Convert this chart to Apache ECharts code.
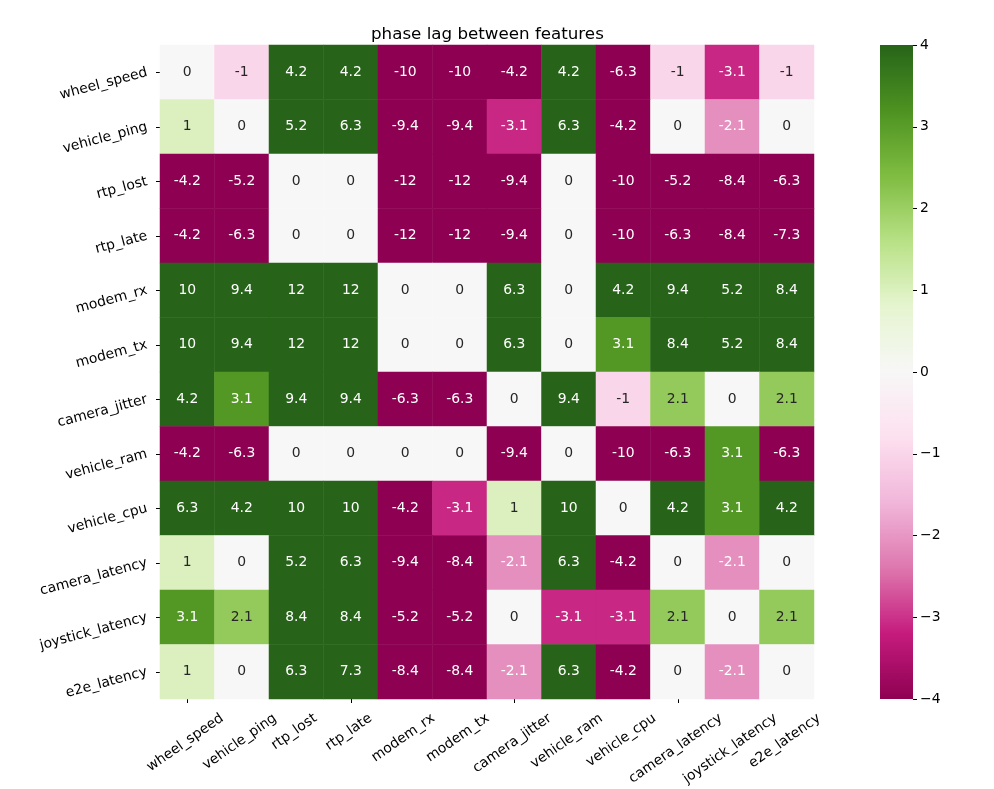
<!DOCTYPE html>
<html>
<head>
<meta charset="utf-8">
<script src="https://cdn.jsdelivr.net/npm/echarts@6/dist/echarts.min.js"></script>
<style>
html,body{margin:0;padding:0;background:#fff;}
#chart{width:994px;height:789px;}
</style>
</head>
<body>
<div id="chart"></div>
<script>
const features = ['wheel_speed','vehicle_ping','rtp_lost','rtp_late','modem_rx','modem_tx','camera_jitter','vehicle_ram','vehicle_cpu','camera_latency','joystick_latency','e2e_latency'];
const lagRows = [
  [0, -1, 4.2, 4.2, -10, -10, -4.2, 4.2, -6.3, -1, -3.1, -1],
  [1, 0, 5.2, 6.3, -9.4, -9.4, -3.1, 6.3, -4.2, 0, -2.1, 0],
  [-4.2, -5.2, 0, 0, -12, -12, -9.4, 0, -10, -5.2, -8.4, -6.3],
  [-4.2, -6.3, 0, 0, -12, -12, -9.4, 0, -10, -6.3, -8.4, -7.3],
  [10, 9.4, 12, 12, 0, 0, 6.3, 0, 4.2, 9.4, 5.2, 8.4],
  [10, 9.4, 12, 12, 0, 0, 6.3, 0, 3.1, 8.4, 5.2, 8.4],
  [4.2, 3.1, 9.4, 9.4, -6.3, -6.3, 0, 9.4, -1, 2.1, 0, 2.1],
  [-4.2, -6.3, 0, 0, 0, 0, -9.4, 0, -10, -6.3, 3.1, -6.3],
  [6.3, 4.2, 10, 10, -4.2, -3.1, 1, 10, 0, 4.2, 3.1, 4.2],
  [1, 0, 5.2, 6.3, -9.4, -8.4, -2.1, 6.3, -4.2, 0, -2.1, 0],
  [3.1, 2.1, 8.4, 8.4, -5.2, -5.2, 0, -3.1, -3.1, 2.1, 0, 2.1],
  [1, 0, 6.3, 7.3, -8.4, -8.4, -2.1, 6.3, -4.2, 0, -2.1, 0]
];
const colorbarMin = -4;
const colorbarMax = 4;
const titleText = 'phase lag between features';

const piyg = ['#8e0152','#c51b7d','#de77ae','#f1b6da','#fde0ef','#f7f7f7','#e6f5d0','#b8e186','#7fbc41','#4d9221','#276419'];
const FONT = 'DejaVu Sans';
const FS = 13.9;
const GRID = { left: 160, top: 45, width: 654, height: 654 };
const CBAR = { left: 880, top: 45, width: 33, height: 654 };

const data = [];
lagRows.forEach((row, r) => {
  row.forEach((v, c) => {
    const clamped = Math.max(colorbarMin, Math.min(colorbarMax, v));
    const dark = (v <= -1.5 || v >= 2.5);
    data.push({
      value: [c, r, clamped, v],
      label: { color: dark ? '#ffffff' : '#262626' }
    });
  });
});

const chart = echarts.init(document.getElementById('chart'), null, {renderer: 'canvas'});
chart.setOption({
  animation: false,
  backgroundColor: '#ffffff',
  textStyle: { fontFamily: FONT },
  title: {
    text: titleText,
    left: 366,
    top: 21,
    textStyle: { fontFamily: FONT, fontSize: 16.7, fontWeight: 'normal', color: '#000' }
  },
  grid: [GRID, CBAR],
  xAxis: [
    {
      type: 'category', data: features, gridIndex: 0,
      axisLine: { show: false },
      axisTick: { show: true, alignWithLabel: true, length: 4, lineStyle: { color: '#000' } },
      axisLabel: { show: false },
      splitLine: { show: false }
    },
    { type: 'value', gridIndex: 1, show: false, min: 0, max: 1 }
  ],
  yAxis: [
    {
      type: 'category', data: features, gridIndex: 0, inverse: true,
      axisLine: { show: false },
      axisTick: { show: true, alignWithLabel: true, length: 4, lineStyle: { color: '#000' } },
      axisLabel: { interval: 0, rotate: 15, fontSize: FS, color: '#000', fontFamily: FONT, margin: 13 },
      splitLine: { show: false }
    },
    {
      type: 'value', gridIndex: 1, min: colorbarMin, max: colorbarMax, interval: 1, position: 'right',
      axisLine: { show: false, onZero: false },
      axisTick: { show: true, inside: false, length: 4, lineStyle: { color: '#000' } },
      axisLabel: { fontSize: FS, color: '#000', fontFamily: FONT, margin: 7,
        formatter: v => String(v).replace('-', '\u2212') },
      splitLine: { show: false }
    }
  ],
  visualMap: {
    type: 'continuous',
    show: false,
    min: colorbarMin, max: colorbarMax,
    dimension: 2,
    seriesIndex: 0,
    inRange: { color: piyg }
  },
  series: [
    {
      type: 'heatmap',
      xAxisIndex: 0, yAxisIndex: 0,
      data: data,
      label: {
        show: true,
        fontSize: FS,
        fontFamily: FONT,
        formatter: p => String(p.value[3])
      },
      itemStyle: { borderWidth: 0 },
      emphasis: { disabled: true }
    },
    {
      type: 'scatter', xAxisIndex: 1, yAxisIndex: 1, data: [], silent: true
    }
  ]
});

// colour bar: gradient rect spanning the colour-bar axis range
const yTop = chart.convertToPixel({ yAxisIndex: 1 }, colorbarMax);
const yBot = chart.convertToPixel({ yAxisIndex: 1 }, colorbarMin);
const stops = piyg.map((c, i) => ({ offset: 1 - i / (piyg.length - 1), color: c })).reverse();
const graphics = [{
  type: 'rect',
  silent: true,
  z: 0,
  shape: { x: CBAR.left, y: yTop, width: CBAR.width, height: yBot - yTop },
  style: { fill: new echarts.graphic.LinearGradient(0, 0, 0, 1, stops) }
}];

// x tick labels: rotated 35°, bounding box centred under each tick (matplotlib style)
const ctx = document.createElement('canvas').getContext('2d');
ctx.font = FS + 'px "' + FONT + '"';
const ang = 35 * Math.PI / 180;
const inkTop = GRID.top + GRID.height + 13;
features.forEach((name, i) => {
  const x = chart.convertToPixel({ xAxisIndex: 0 }, i);
  const L = ctx.measureText(name).width;
  const h = 12;
  const cy = inkTop + (L * Math.sin(ang) + h * Math.cos(ang)) / 2;
  graphics.push({
    type: 'text',
    x: x - 2, y: cy,
    rotation: ang,
    silent: true,
    style: {
      text: name,
      font: FS + 'px "' + FONT + '"',
      fill: '#000',
      align: 'center',
      verticalAlign: 'middle'
    }
  });
});
chart.setOption({ graphic: graphics });
</script>
</body>
</html>
